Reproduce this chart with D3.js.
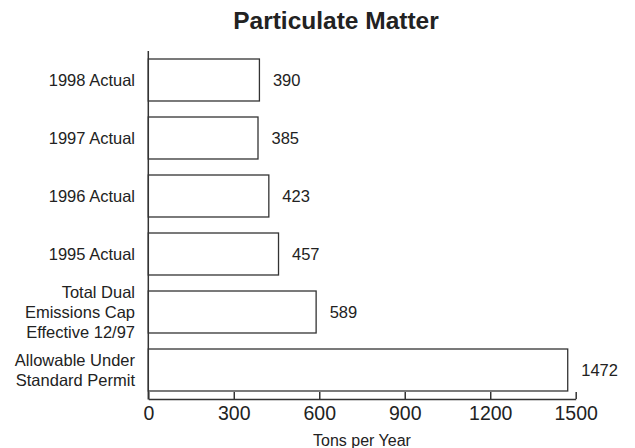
<!DOCTYPE html>
<html><head><meta charset="utf-8">
<script src="https://cdn.jsdelivr.net/npm/d3@7"></script>
<style>body{margin:0;background:#fff}svg{display:block}text{font-family:"Liberation Sans",Arial,sans-serif;fill:#222}</style>
</head><body><svg id="c" width="635" height="448"></svg>
<script>
const categories = [["1998 Actual"],["1997 Actual"],["1996 Actual"],["1995 Actual"],["Total Dual","Emissions Cap","Effective 12/97"],["Allowable Under","Standard Permit"]];
const values = [390,385,423,457,589,1472];
const tickValues = [0,300,600,900,1200,1500];
const title = "Particulate Matter";
const xTitle = "Tons per Year";

const svg = d3.select("#c");
const x = d3.scaleLinear().domain([0,1500]).range([148.3,575.7]);
const y = d3.scaleBand().domain(d3.range(values.length)).range([51,399]).paddingInner(0.276).paddingOuter(0.138);
const stroke = "#333";

svg.append("text").attr("x",336).attr("y",28.5).attr("text-anchor","middle")
  .style("font-size","24.5px").style("font-weight","bold").text(title);

svg.selectAll("rect.bar").data(values).join("rect").attr("class","bar")
  .attr("x",x(0)).attr("y",(d,i)=>y(i)).attr("width",d=>x(d)-x(0)).attr("height",y.bandwidth())
  .attr("fill","#fff").attr("stroke",stroke).attr("stroke-width",1.3);

svg.selectAll("text.val").data(values).join("text").attr("class","val")
  .attr("x",d=>x(d)+13.5).attr("y",(d,i)=>y(i)+y.bandwidth()/2).attr("dy","0.35em")
  .style("font-size","16.5px").text(d=>d);

categories.forEach((lines,i)=>{
  const cy = y(i)+y.bandwidth()/2;
  const lh = 20;
  const t = svg.append("text").attr("text-anchor","end").style("font-size","16.5px");
  lines.forEach((l,j)=>{
    t.append("tspan").attr("x",135).attr("y",cy+(j-(lines.length-1)/2)*lh).attr("dy","0.35em").text(l);
  });
});

// y axis line
svg.append("line").attr("x1",x(0)).attr("x2",x(0)).attr("y1",51).attr("y2",399.5).attr("stroke",stroke).attr("stroke-width",1.5);

const xAxis = d3.axisBottom(x).tickValues(tickValues).tickSize(-7).tickSizeOuter(0).tickFormat(d3.format("d"));
const gx = svg.append("g").attr("transform","translate(0,399)").call(xAxis);
gx.attr("font-size",null).attr("font-family",null);
gx.select(".domain").attr("stroke",stroke).attr("stroke-width",1.5);
gx.selectAll(".tick line").attr("stroke",stroke).attr("stroke-width",1.5);
gx.selectAll(".tick text").style("font-size","19.5px").attr("fill","#222").attr("dy",null).attr("y",21);

svg.append("text").attr("x",362).attr("y",446).attr("text-anchor","middle")
  .style("font-size","16px").text(xTitle);
</script></body></html>
